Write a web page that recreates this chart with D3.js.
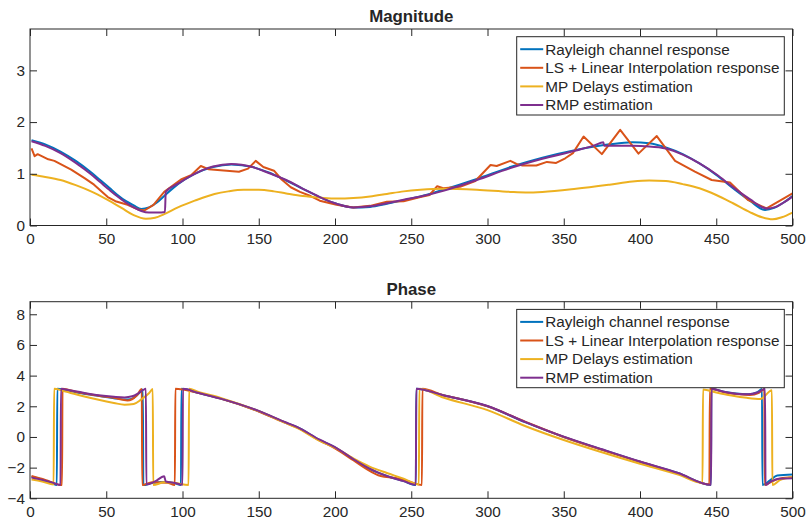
<!DOCTYPE html>
<html>
<head>
<meta charset="utf-8">
<script src="https://cdn.jsdelivr.net/npm/d3@7"></script>
<style>
  html, body { margin: 0; padding: 0; background: #fff; }
  svg { display: block; }
  text { font-family: "Liberation Sans", Arial, Helvetica, sans-serif; fill: #262626; }
</style>
</head>
<body>
<svg id="chart" width="806" height="523"></svg>
<script>
// ---- series labels and colours ----
const seriesNames = [
  "Rayleigh channel response",
  "LS + Linear Interpolation response",
  "MP Delays estimation",
  "RMP estimation"
];
const seriesColors = ["#0072BD", "#D95319", "#EDB120", "#7E2F8E"];

// ---- tick values ----
const xTicks = [0, 50, 100, 150, 200, 250, 300, 350, 400, 450, 500];
const magTicks = [0, 1, 2, 3];
const phaseTicks = [-4, -2, 0, 2, 4, 6, 8];

// ---- magnitude, [subcarrier, |H|] ----
const magRayleigh = [[1,1.65],[10,1.57],[20,1.43],[30,1.25],[40,1.03],[46,0.88],[52,0.73],[57,0.60],[63,0.47],[68,0.39],[73,0.32],[78,0.35],[83,0.44],[88,0.57],[97,0.80],[108,1.00],[120,1.13],[132,1.18],[146,1.13],[157,1.02],[168,0.87],[179,0.71],[190,0.55],[201,0.42],[212,0.35],[223,0.36],[234,0.42],[245,0.49],[256,0.56],[271,0.69],[293,0.90],[315,1.13],[336,1.31],[358,1.46],[380,1.57],[395,1.61],[406,1.59],[417,1.51],[428,1.38],[439,1.20],[450,0.98],[461,0.72],[472,0.48],[482,0.30],[488,0.34],[494,0.44],[500,0.57]];
const magLS = [[1,1.49],[3,1.34],[5,1.38],[12,1.28],[16,1.25],[27,1.08],[36,0.91],[42,0.79],[51,0.55],[56,0.47],[64,0.40],[71,0.31],[75,0.29],[81,0.40],[88,0.65],[99,0.89],[106,0.98],[112,1.15],[117,1.09],[125,1.07],[137,1.04],[143,1.10],[148,1.25],[153,1.13],[160,1.06],[165,0.89],[171,0.74],[177,0.65],[184,0.57],[190,0.48],[201,0.40],[212,0.35],[223,0.38],[234,0.46],[245,0.47],[256,0.55],[262,0.59],[267,0.76],[271,0.72],[282,0.75],[292,0.86],[302,1.17],[306,1.15],[315,1.25],[319,1.19],[323,1.16],[332,1.16],[339,1.23],[345,1.21],[351,1.30],[356,1.40],[363,1.72],[375,1.38],[387,1.85],[399,1.39],[411,1.73],[423,1.25],[436,1.04],[447,0.88],[459,0.83],[471,0.49],[483,0.33],[500,0.62]];
const magMP = [[1,0.98],[10,0.94],[20,0.88],[30,0.78],[40,0.66],[50,0.51],[60,0.34],[68,0.20],[76,0.13],[82,0.15],[88,0.22],[97,0.35],[108,0.48],[121,0.61],[130,0.66],[140,0.69],[150,0.69],[160,0.66],[168,0.62],[179,0.57],[190,0.54],[201,0.52],[212,0.53],[223,0.56],[234,0.61],[245,0.66],[256,0.69],[271,0.71],[293,0.69],[315,0.65],[325,0.64],[336,0.65],[358,0.71],[380,0.79],[395,0.85],[406,0.87],[417,0.86],[428,0.80],[439,0.72],[450,0.59],[461,0.43],[472,0.26],[480,0.16],[487,0.12],[493,0.16],[500,0.25]];
const magRMP = [[1,1.63],[10,1.54],[20,1.40],[30,1.21],[40,0.99],[46,0.84],[52,0.69],[57,0.57],[63,0.44],[68,0.35],[73,0.28],[78,0.25],[84,0.25],[88.5,0.26],[89,0.65],[97,0.81],[108,1.00],[120,1.14],[132,1.19],[146,1.13],[157,1.01],[168,0.88],[179,0.71],[190,0.55],[201,0.42],[212,0.35],[223,0.37],[234,0.43],[245,0.50],[256,0.56],[271,0.67],[293,0.88],[315,1.11],[336,1.29],[358,1.45],[370,1.55],[376,1.61],[376.5,1.54],[385,1.54],[395,1.54],[406,1.53],[417,1.49],[428,1.37],[439,1.20],[450,0.99],[461,0.74],[472,0.51],[483,0.33],[489,0.36],[494,0.44],[500,0.56]];

// ---- phase (rad), [subcarrier, arg H] ----
const phaseRayleigh = [[1,-2.60],[8,-2.78],[14,-2.98],[17.6,-3.14],[17.9,3.14],[23,3.07],[30,2.92],[42,2.72],[55,2.52],[64,2.44],[68,2.55],[71,2.80],[74,3.10],[74.3,-3.14],[80,-3.00],[88,-2.94],[95,-3.02],[99,-3.14],[99.3,3.14],[110,2.88],[125,2.50],[150,1.68],[168,0.92],[175,0.65],[190,-0.20],[200,-0.68],[212,-1.45],[223,-2.10],[234,-2.55],[245,-2.88],[253,-3.13],[253.3,3.14],[271,2.72],[300,2.00],[325,0.95],[350,0.00],[375,-0.82],[400,-1.62],[425,-2.35],[446.5,-3.13],[446.8,3.14],[455,2.95],[463,2.83],[471,2.79],[477,2.92],[480,3.12],[480.3,-3.14],[485,-2.85],[490,-2.52],[500,-2.45]];
const phaseLS = [[1,-2.55],[10,-2.80],[21,-3.14],[21.3,3.14],[30,2.95],[45,2.68],[55,2.55],[64,2.38],[70,2.70],[73.3,3.12],[73.6,-3.14],[80,-2.95],[90,-2.98],[95,-3.14],[95.3,3.14],[100,3.10],[110,2.88],[125,2.50],[150,1.66],[168,0.90],[175,0.62],[190,-0.24],[200,-0.74],[212,-1.52],[220,-2.05],[230,-2.55],[240,-2.68],[250,-2.95],[257,-3.14],[257.3,3.14],[271,2.72],[282,2.48],[300,2.00],[325,0.98],[350,0.00],[375,-0.84],[400,-1.62],[425,-2.38],[445.5,-3.10],[445.8,3.14],[455,2.92],[465,2.78],[472,2.74],[478,2.88],[481.5,3.12],[481.8,-3.14],[486,-2.92],[492,-2.70],[500,-2.62]];
const phaseMP = [[1,-2.78],[8,-2.90],[15.5,-3.10],[15.8,3.14],[22,3.00],[35,2.65],[45,2.42],[55,2.22],[62,2.10],[68,2.15],[73,2.45],[78,2.85],[80.5,3.12],[80.8,-3.14],[88,-2.96],[95,-3.00],[104,-3.14],[104.3,3.14],[110,2.95],[125,2.55],[150,1.68],[168,0.90],[175,0.60],[190,-0.25],[200,-0.70],[212,-1.40],[223,-1.95],[234,-2.35],[245,-2.72],[255,-3.10],[255.3,3.14],[271,2.57],[300,1.75],[325,0.70],[350,-0.20],[375,-1.00],[400,-1.75],[425,-2.45],[441,-3.00],[441.3,3.10],[450,2.90],[460,2.70],[470,2.55],[479,2.48],[486.5,3.05],[486.8,-3.14],[492,-2.80],[500,-2.62]];
const phaseRMP = [[1,-2.65],[8,-2.80],[15,-2.98],[20,-3.14],[20.3,3.14],[25,3.06],[35,2.88],[45,2.72],[55,2.62],[62,2.58],[67,2.65],[71,2.85],[74,3.05],[76,3.14],[76.3,-3.10],[82,-2.90],[88,-2.57],[89,-2.90],[95,-3.00],[100,-3.12],[100.3,3.14],[110,2.88],[125,2.50],[150,1.70],[168,0.94],[175,0.66],[190,-0.18],[200,-0.66],[212,-1.44],[223,-2.08],[234,-2.55],[245,-2.88],[253,-3.12],[253.3,3.14],[271,2.72],[300,2.02],[325,0.97],[350,0.02],[375,-0.80],[400,-1.60],[425,-2.35],[446.6,-3.12],[446.9,3.14],[455,2.95],[463,2.82],[471,2.78],[477,2.90],[481,3.10],[482,3.14],[482.3,-3.14],[486,-2.90],[491,-2.72],[500,-2.70]];

const svg = d3.select("#chart");
const FONT = 15.3;
const left = 30, right = 792.5;
const x = d3.scaleLinear().domain([0, 500]).range([left, right]);
const fmt = d3.format("d");

function drawPanel(cfg) {
  const { top, bottom, yDomain, yTicks, title, series, curves, clipId } = cfg;
  const y = d3.scaleLinear().domain(yDomain).range([bottom, top]);
  const g = svg.append("g");

  g.append("clipPath").attr("id", clipId)
    .append("rect").attr("x", left).attr("y", top)
    .attr("width", right - left).attr("height", bottom - top);

  // data lines
  const lines = g.append("g").attr("clip-path", `url(#${clipId})`);
  series.forEach((data, i) => {
    const line = d3.line()
      .x(d => x(d[0])).y(d => y(d[1]))
      .curve(curves[i]);
    lines.append("path")
      .attr("d", line(data))
      .attr("fill", "none")
      .attr("stroke", seriesColors[i])
      .attr("stroke-width", 2)
      .attr("stroke-linejoin", "round");
  });

  // axes with inward ticks, mirrored on top and right
  const styleAxis = sel => {
    sel.select(".domain").remove();
    sel.selectAll(".tick line").attr("stroke", "#262626");
    sel.selectAll(".tick text")
      .style("font-size", FONT + "px")
      .attr("fill", "#262626");
  };
  g.append("g").attr("transform", `translate(0,${bottom})`)
    .call(d3.axisBottom(x).tickValues(xTicks).tickFormat(fmt).tickSize(-7).tickSizeOuter(0).tickPadding(7.5))
    .call(styleAxis);
  g.append("g").attr("transform", `translate(0,${top})`)
    .call(d3.axisTop(x).tickValues(xTicks).tickSize(-7).tickSizeOuter(0).tickFormat(""))
    .call(styleAxis);
  g.append("g").attr("transform", `translate(${left},0)`)
    .call(d3.axisLeft(y).tickValues(yTicks).tickFormat(fmt).tickSize(-7).tickSizeOuter(0).tickPadding(5))
    .call(styleAxis);
  g.append("g").attr("transform", `translate(${right},0)`)
    .call(d3.axisRight(y).tickValues(yTicks).tickSize(-7).tickSizeOuter(0).tickFormat(""))
    .call(styleAxis);

  g.append("rect")
    .attr("x", left).attr("y", top)
    .attr("width", right - left).attr("height", bottom - top)
    .attr("fill", "none").attr("stroke", "#262626").attr("stroke-width", 1);

  g.append("text")
    .attr("x", (left + right) / 2).attr("y", top - 7)
    .attr("text-anchor", "middle")
    .style("font-size", (FONT * 1.1) + "px")
    .style("font-weight", "bold")
    .attr("fill", "#000")
    .text(title);

  // legend
  const lx = 516.7, ly = top + 7.7, lw = 267.6, lh = 78.3;
  const lg = g.append("g");
  lg.append("rect").attr("x", lx).attr("y", ly).attr("width", lw).attr("height", lh)
    .attr("fill", "#fff").attr("stroke", "#262626").attr("stroke-width", 1);
  seriesNames.forEach((name, i) => {
    const cy = ly + 12.5 + i * 18.6;
    lg.append("line").attr("x1", lx + 3.5).attr("x2", lx + 26.5)
      .attr("y1", cy).attr("y2", cy)
      .attr("stroke", seriesColors[i]).attr("stroke-width", 2);
    lg.append("text").attr("x", lx + 28.5).attr("y", cy)
      .attr("dy", "0.35em")
      .style("font-size", FONT + "px")
      .attr("fill", "#000")
      .text(name);
  });
}

drawPanel({
  top: 29, bottom: 225.5, yDomain: [0, 3.8], yTicks: magTicks,
  title: "Magnitude", clipId: "clipMag",
  series: [magRayleigh, magLS, magMP, magRMP],
  curves: [d3.curveMonotoneX, d3.curveLinear, d3.curveMonotoneX, d3.curveMonotoneX]
});

drawPanel({
  top: 301.7, bottom: 498.3, yDomain: [-4, 8.82], yTicks: phaseTicks,
  title: "Phase", clipId: "clipPhase",
  series: [phaseRayleigh, phaseLS, phaseMP, phaseRMP],
  curves: [d3.curveMonotoneX, d3.curveMonotoneX, d3.curveMonotoneX, d3.curveMonotoneX]
});
</script>
</body>
</html>
